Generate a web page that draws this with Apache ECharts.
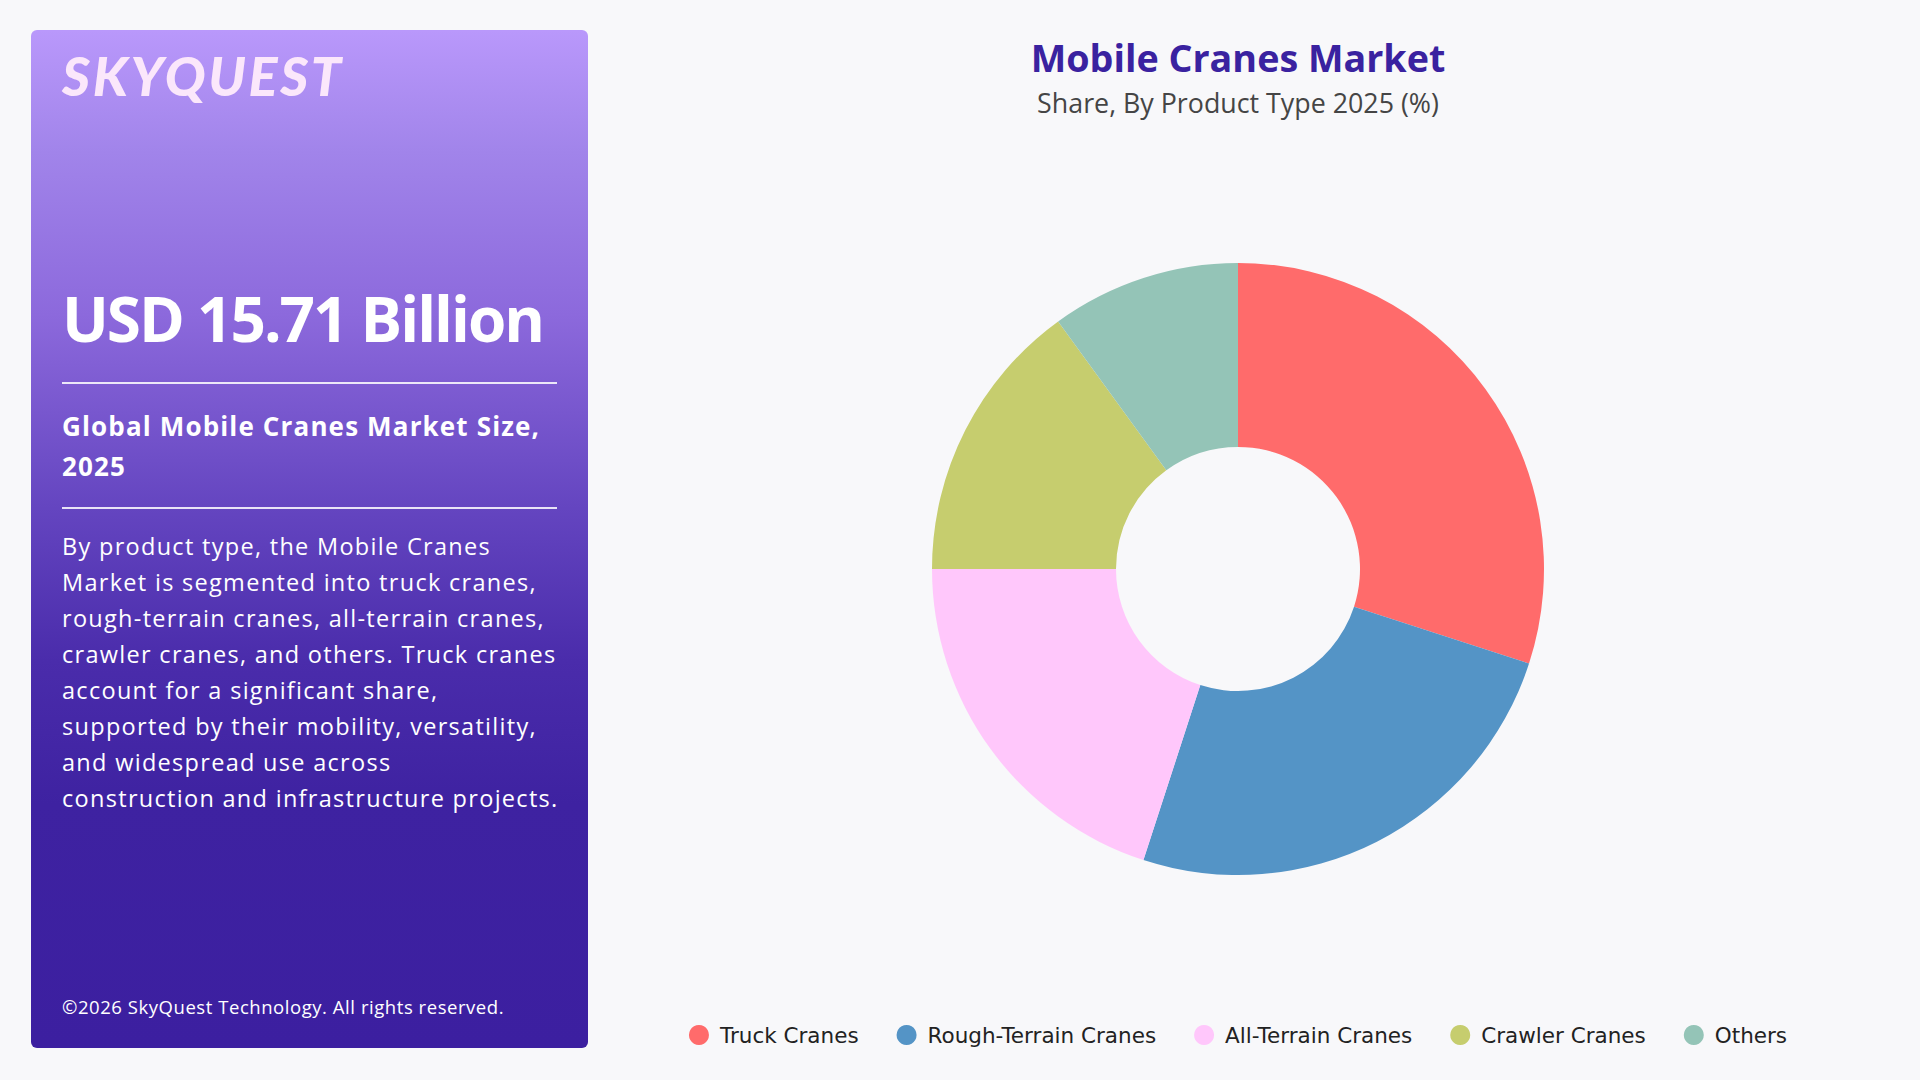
<!DOCTYPE html>
<html>
<head>
<meta charset="utf-8">
<script src="https://cdn.jsdelivr.net/npm/echarts@6/dist/echarts.min.js"></script>
<style>
  html, body { margin: 0; padding: 0; width: 1920px; height: 1080px; background: #f8f8fa; overflow: hidden; }
  #panel {
    position: absolute; left: 31px; top: 30px; width: 557px; height: 1018px;
    border-radius: 6px;
    background: linear-gradient(180deg, #b998fb 0%, #a184ea 12%, #8c69dc 28%, #6445c0 47%, #4a2cab 62%, #3e22a1 76%, #3c1fa0 100%);
  }
  .t { position: absolute; left: 31px; color: #ffffff; white-space: nowrap; font-family: "Open Sans", sans-serif; }
  #logo { top: 18.5px; font-family: Lato, sans-serif; font-weight: 900; font-style: italic; font-size: 54px; line-height: 54px; color: #fbe7fb; letter-spacing: 2.7px; }
  #big { top: 257px; font-weight: 700; font-size: 62px; line-height: 62px; letter-spacing: -2px; }
  .hr { position: absolute; left: 31px; width: 495px; height: 2px; background: rgba(255,255,255,0.85); }
  #sub { top: 376px; font-weight: 700; font-size: 26px; line-height: 40px; letter-spacing: 1.15px; }
  #para { top: 498px; font-weight: 400; font-size: 23.5px; line-height: 36px; letter-spacing: 1.3px; }
  #copy { top: 967px; font-weight: 400; font-size: 18.5px; line-height: 20px; letter-spacing: 0.55px; }
  #chart { position: absolute; left: 588px; top: 0; width: 1300px; height: 1080px; }
</style>
</head>
<body>
<div id="panel">
  <div class="t" id="logo">SKYQUEST</div>
  <div class="t" id="big">USD 15.71 Billion</div>
  <div class="hr" style="top:352px"></div>
  <div class="t" id="sub">Global Mobile Cranes Market Size,<br>2025</div>
  <div class="hr" style="top:477px"></div>
  <div class="t" id="para">By product type, the Mobile Cranes<br>Market is segmented into truck cranes,<br>rough-terrain cranes, all-terrain cranes,<br>crawler cranes, and others. Truck cranes<br>account for a significant share,<br>supported by their mobility, versatility,<br>and widespread use across<br>construction and infrastructure projects.</div>
  <div class="t" id="copy">©2026 SkyQuest Technology. All rights reserved.</div>
</div>
<div id="chart"></div>
<script>
const chartTitle = 'Mobile Cranes Market';
const chartSubtitle = 'Share, By Product Type 2025 (%)';
const categories = ['Truck Cranes', 'Rough-Terrain Cranes', 'All-Terrain Cranes', 'Crawler Cranes', 'Others'];
const shares = [30, 25, 20, 15, 10];
const colors = ['#ff6b6b', '#5494c6', '#ffc7fb', '#c6cd6e', '#94c4b7'];

const chart = echarts.init(document.getElementById('chart'), null, { renderer: 'svg' });
const font = '"Open Sans", sans-serif';
chart.setOption({
  animation: false,
  title: [
    { text: chartTitle, left: 'center', top: 31,
      textStyle: { fontFamily: font, fontWeight: 700, fontSize: 37.7, color: '#3a22a0', lineHeight: 42 } },
    { text: chartSubtitle, left: 'center', top: 82,
      textStyle: { fontFamily: font, fontWeight: 400, fontSize: 26.8, color: '#454545', lineHeight: 30 } }
  ],
  legend: {
    left: 'center', top: 1019, icon: 'circle', itemWidth: 20, itemHeight: 20, itemGap: 38,
    textStyle: { fontFamily: '"DejaVu Sans", sans-serif', fontSize: 21.5, color: '#222222', padding: [0, 0, 0, 6] },
    data: categories
  },
  series: [{
    type: 'pie',
    center: ['50%', 569],
    radius: [122, 306],
    startAngle: 90,
    clockwise: true,
    label: { show: false },
    labelLine: { show: false },
    itemStyle: { borderWidth: 0 },
    emphasis: { disabled: true },
    data: categories.map((c, i) => ({ name: c, value: shares[i], itemStyle: { color: colors[i] } }))
  }]
});
</script>
</body>
</html>
